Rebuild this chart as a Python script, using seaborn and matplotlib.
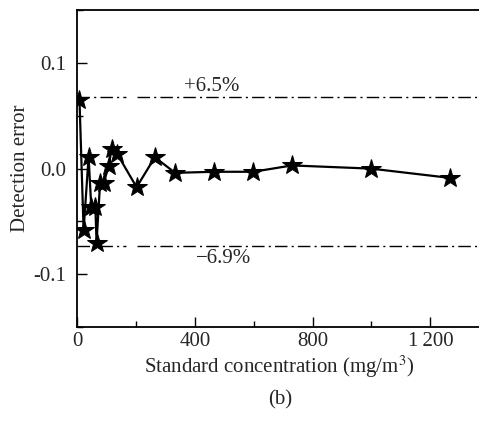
import numpy as np
import pandas as pd
import matplotlib
matplotlib.use('Agg')
import matplotlib.pyplot as plt
import seaborn as sns
from matplotlib.ticker import MultipleLocator

# datos
concentracion = [8, 22, 39, 48, 62, 66, 78, 90, 107, 117, 136, 202, 264, 333, 465, 598, 730, 998, 1267]
error = [0.065, -0.058, 0.011, -0.036, -0.036, -0.070, -0.0135, -0.0135, 0.002, 0.0186, 0.014,
         -0.0176, 0.0107, -0.004, -0.003, -0.003, 0.003, 0.000, -0.0088]

limite_sup = 0.068
limite_inf = -0.073
etiquetas_limite = ['+6.5%', '\u22126.9%']

df = pd.DataFrame({'conc': concentracion, 'err': error})

sns.set_style('ticks')
plt.rcParams['font.family'] = ['Liberation Serif', 'DejaVu Serif']
plt.rcParams['mathtext.fontset'] = 'stix'

fig = plt.figure(figsize=(4.79, 4.21), dpi=100)
ax = fig.add_axes([0.161, 0.223, 0.845, 0.753])

sns.lineplot(data=df, x='conc', y='err', ax=ax, color='black', linewidth=1.6,
             marker='*', markersize=15, markeredgecolor='black', markerfacecolor='black',
             sort=False)

# lineas de limite
estilo = dict(colors='black', linewidth=1.0, linestyles=[(0, (9, 3, 1.5, 3))])
ax.hlines([limite_sup, limite_inf], 0, 165, **estilo)
ax.hlines([limite_sup, limite_inf], 205, 1400, **estilo)
ax.text(363, 0.078, etiquetas_limite[0], fontsize=15, ha='left', va='center')
ax.text(405, -0.085, etiquetas_limite[1], fontsize=15, ha='left', va='center')

ax.set_xlim(0, 1375)
ax.set_ylim(-0.15, 0.15)
ax.set_xticks([0, 400, 800, 1200])
ax.set_xticklabels(['0', '400', '800', '1\u2009200'])
ax.xaxis.set_minor_locator(MultipleLocator(200))
ax.set_yticks([-0.1, 0.0, 0.1])
ax.set_yticklabels(['-0.1', '0.0', '0.1'])
ax.yaxis.set_minor_locator(MultipleLocator(0.05))
ax.tick_params(which='both', direction='in', labelsize=15, width=1, color='black')
ax.tick_params(which='major', length=7)
ax.tick_params(which='minor', length=4)
ax.tick_params(axis='y', which='major', pad=8)
for lado in ['left', 'bottom', 'top']:
    ax.spines[lado].set_linewidth(1.3)
    ax.spines[lado].set_color('black')
ax.spines['right'].set_visible(False)

ax.set_xlabel('Standard concentration (mg/m$^3$)', fontsize=15, labelpad=2)
ax.set_ylabel('Detection error', fontsize=15, labelpad=2)

fig.text(0.585, 0.05, '(b)', fontsize=15, ha='center', va='center')

fig.savefig('out.png', dpi=100)
